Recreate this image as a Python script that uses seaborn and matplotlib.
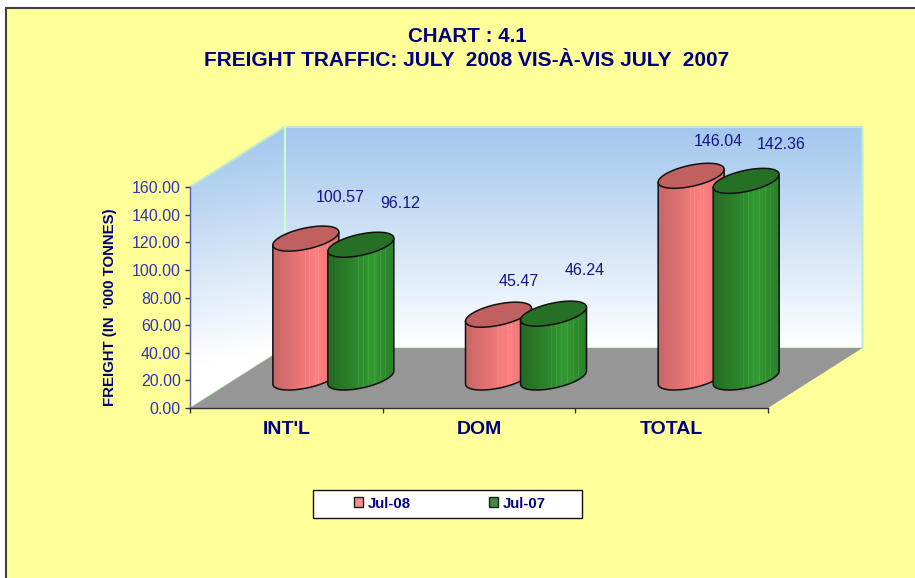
import numpy as np
import pandas as pd
import matplotlib
matplotlib.use("Agg")
import matplotlib.pyplot as plt
from matplotlib.patches import Polygon, Rectangle
import seaborn as sns

categories = ["INT'L", "DOM", "TOTAL"]
periods = ["Jul-08", "Jul-07"]
jul_08 = [100.57, 45.47, 146.04]
jul_07 = [96.12, 46.24, 142.36]
value_labels = ["100.57", "45.47", "146.04", "96.12", "46.24", "142.36"]
y_ticks = [0, 20, 40, 60, 80, 100, 120, 140, 160]

# label offsets from the bar top, pixels
label_dx = [34, 20.5, 27, 39, 31, 35]
label_dy = [-41.5, -33.5, -34.5, -41.5, -43.5, -36.5]

W, H = 915, 578
NAVY = "#000080"
BLUE = "#3333BB"
FRONT_L, FRONT_R, FLOOR_Y, TOP_Y = 190, 768, 408, 187
DEPTH_X, DEPTH_Y = 94.5, -60
BAR_DX, BAR_DY = 47, -30.5
A, B, K = 33, 10.7, 0.197

sns.set_theme(style="white")
plt.rcParams["font.family"] = ["Liberation Sans", "DejaVu Sans"]

fig = plt.figure(figsize=(W / 100, H / 100), dpi=100, facecolor="white")
scene = fig.add_axes([0, 0, 1, 1], zorder=0)
scene.set_xlim(0, W)
scene.set_ylim(H, 0)
scene.axis("off")
ax = fig.add_axes([FRONT_L / W, 1 - FLOOR_Y / H, (FRONT_R - FRONT_L) / W, (FLOOR_Y - TOP_Y) / H], zorder=1)
ax.patch.set_alpha(0)

# page background and frame
scene.add_patch(Rectangle((5.5, 8), W, H, fc="#FFFF99", ec="#404040", lw=1.5, zorder=1))

# walls
top_c = np.array([0.64, 0.78, 0.93])
low_c = np.array([1.0, 1.0, 1.0])


def wall_image(x0, x1, y0, y1, shear):
    xs = np.arange(x0, x1 + 1)
    ys = np.arange(y0, y1 + 1)
    xx, yy = np.meshgrid(xs, ys)
    t = np.clip((yy - (TOP_Y + DEPTH_Y + (DEPTH_X - (xx - FRONT_L)) * shear)) / (FLOOR_Y - TOP_Y), 0, 1)
    return top_c + (low_c - top_c) * t[..., None]


bx0, by0 = FRONT_L + DEPTH_X, TOP_Y + DEPTH_Y
bx1, by1 = FRONT_R + DEPTH_X, FLOOR_Y + DEPTH_Y
back = Polygon([(bx0, by0), (bx1, by0), (bx1, by1), (bx0, by1)], closed=True, fc="none", ec="none")
left = Polygon([(FRONT_L, TOP_Y), (bx0, by0), (bx0, by1), (FRONT_L, FLOOR_Y)], closed=True, fc="none", ec="none")
scene.add_patch(back)
scene.add_patch(left)
im = scene.imshow(wall_image(int(bx0), int(bx1), int(by0), int(by1), 0), extent=(bx0, bx1, by1, by0),
                  aspect="auto", zorder=2)
im.set_clip_path(back)
im = scene.imshow(wall_image(FRONT_L, int(bx0), int(by0), FLOOR_Y, 0.2),
                  extent=(FRONT_L, bx0, FLOOR_Y, by0), aspect="auto", zorder=2)
im.set_clip_path(left)
scene.add_patch(Polygon([(FRONT_L, FLOOR_Y), (FRONT_R, FLOOR_Y), (bx1, by1), (bx0, by1)], closed=True,
                        fc="#969696", ec="none", zorder=3))
edge = "#BDEBD0"
scene.plot([FRONT_L, bx0, bx1, bx1], [TOP_Y, by0, by0, by1], color=edge, lw=1.5, zorder=3)
scene.plot([bx0, bx0], [by0, by1], color="#CCFFCC", lw=1.5, zorder=3)
scene.plot([FRONT_L, bx0, bx1], [FLOOR_Y, by1, by1], color="#C8F0C8", lw=1, zorder=2.5)

# bars
df = pd.DataFrame({
    "category": categories * 2,
    "period": [periods[0]] * 3 + [periods[1]] * 3,
    "freight": jul_08 + jul_07,
})
sns.barplot(data=df, x="category", y="freight", hue="period", hue_order=periods, order=categories,
            palette=["#FF8080", "#339933"], width=0.571, edgecolor="#202020", linewidth=1, ax=ax)
ax.set_xlim(-0.5, 2.5)
ax.set_ylim(0, 160)
fig.canvas.draw()

stripes = [
    [0.50, 0.56, 0.66, 0.70, 0.84, 0.90],
    [0.47, 0.55, 0.62, 0.72, 0.80, 0.88],
]
ramps = [
    [(0.78, 0.40, 0.40), (1.0, 0.50, 0.50), (0.85, 0.44, 0.44)],
    [(0.14, 0.42, 0.14), (0.20, 0.60, 0.20), (0.17, 0.50, 0.17)],
]
tops = ["#C06060", "#267026"]
to_scene = scene.transData.inverted()


def body_image(ramp, stripe):
    t = np.linspace(0, 1, 2 * A)
    c = np.array(ramp)
    img = np.stack([np.interp(t, [0, 0.68, 1], c[:, i]) for i in range(3)], axis=-1)
    for s in stripe:
        img[int(s * (2 * A - 1))] = np.clip(img[int(s * (2 * A - 1))] + 0.05, 0, 1)
    return img[None, :, :]


def ring(cx, cy, t):
    x = A * np.cos(t)
    return cx + x, cy - K * x + B * np.sin(t)


z = 4.0
n = 0
for i, cont in enumerate(ax.containers):
    for p in cont:
        mid = p.get_x() + p.get_width() / 2
        cx, ytop = to_scene.transform(ax.transData.transform((mid, p.get_height())))
        cx0, ybase = to_scene.transform(ax.transData.transform((mid, 0)))
        cx, ytop, ybase = cx + BAR_DX, ytop + BAR_DY, ybase + BAR_DY
        t_low = np.linspace(np.pi, 0, 60)
        bx, by = ring(cx, ybase, t_low)
        outline = np.column_stack([
            np.r_[bx, cx + A, cx - A],
            np.r_[by, ytop - K * A, ytop + K * A],
        ])
        body = Polygon(outline, closed=True, fc="none", ec="#101010", lw=1.1, zorder=z + 0.2)
        scene.add_patch(body)
        im = scene.imshow(body_image(ramps[i], stripes[i]), extent=(cx - A, cx + A, ybase + 14, ytop - 14),
                          aspect="auto", zorder=z)
        im.set_clip_path(body)
        tx, ty = ring(cx, ytop, np.linspace(0, 2 * np.pi, 90))
        scene.add_patch(Polygon(np.column_stack([tx, ty]), closed=True, fc=tops[i], ec="#101010", lw=1.1,
                                zorder=z + 0.3))
        scene.text(cx + label_dx[n], ytop + label_dy[n], value_labels[n], color="#14148C", fontsize=11.5,
                   ha="center", va="center", zorder=9)
        p.set_visible(False)
        z += 1
        n += 1
scene.set_xlim(0, W)
scene.set_ylim(H, 0)

# axes
for s in ["top", "right"]:
    ax.spines[s].set_visible(False)
ax.spines["left"].set_color("#5A5AB0")
ax.spines["left"].set_linewidth(1)
ax.spines["bottom"].set_color("#303030")
ax.spines["bottom"].set_linewidth(1)
ax.set_yticks(y_ticks)
ax.set_yticklabels([f"{v:.2f}" for v in y_ticks])
ax.tick_params(axis="y", left=True, length=3.5, width=1, color="#303060", labelcolor=BLUE, labelsize=11.5, pad=3)
ax.tick_params(axis="x", bottom=False, labelsize=14, labelcolor=NAVY, pad=3.5)
for lab in ax.get_xticklabels():
    lab.set_fontweight("bold")
ax.set_xticks([-0.5, 0.5, 1.5, 2.5], minor=True)
ax.tick_params(axis="x", which="minor", bottom=True, length=3.5, width=1, color="#303030")
ax.set_xlabel("")
ax.set_ylabel("FREIGHT (IN  '000 TONNES)", color=NAVY, fontweight="bold", fontsize=10.8)
ax.yaxis.set_label_coords((117 - FRONT_L) / (FRONT_R - FRONT_L), (FLOOR_Y - 307) / (FLOOR_Y - TOP_Y))

# title
scene.text(467, 36, "CHART : 4.1", color=NAVY, fontweight="bold", fontsize=14.8, ha="center", va="center", zorder=9)
scene.text(467, 60, "FREIGHT TRAFFIC: JULY  2008 VIS-\u00c0-VIS JULY  2007", color=NAVY, fontweight="bold",
           fontsize=15, ha="center", va="center", zorder=9)

# legend
scene.add_patch(Rectangle((313, 491), 270, 28, fc="#808080", ec="none", zorder=9))
scene.add_patch(Rectangle((312.5, 489.5), 269.5, 28, fc="white", ec="#101010", lw=1, zorder=9.5))
sns.move_legend(ax, "center", bbox_to_anchor=(450 / W, 1 - 503.5 / H), bbox_transform=fig.transFigure,
                ncol=2, frameon=False, title=None, handlelength=0.6, handleheight=0.6,
                handletextpad=0.3, columnspacing=5.2, borderpad=0,
                labelcolor=NAVY, prop={"weight": "bold", "size": 10.8})

fig.savefig("out.png", dpi=100)
